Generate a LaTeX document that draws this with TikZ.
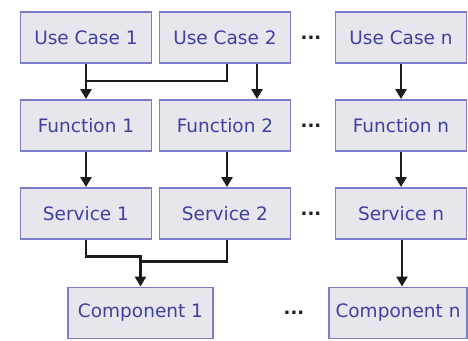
\documentclass[tikz,border=0pt]{standalone}
\usepackage{fontspec}
\setmainfont{DejaVu Sans}
\usetikzlibrary{calc,arrows.meta}
\definecolor{boxfill}{HTML}{E6E6EC}
\definecolor{boxline}{HTML}{7C7CC8}
\definecolor{boxtext}{HTML}{4040A4}
\definecolor{linkcol}{HTML}{1C1C1C}
\begin{document}
\begin{tikzpicture}[x=1pt,y=-1pt,
	block/.style={draw=boxline,fill=boxfill,line width=1.9pt,text=boxtext,
		minimum width=131pt,minimum height=51pt,inner sep=0pt,
		font=\fontsize{18.5}{20}\selectfont},
	wide/.style={block,minimum width=145pt},
	link/.style={draw=linkcol,line width=2.4pt},
	conn/.style={link,-{Triangle[length=10pt,width=11pt]}},
	more/.style={text=linkcol,font=\fontsize{18}{20}\selectfont\bfseries}]
	\def \ca {86}
	\def \cb {225}
	\def \cn {401}
	\def \ra {37.5}
	\def \rb {125.5}
	\def \rc {213.5}
	\def \rd {313}
	
	\useasboundingbox[fill=white] (0,0) rectangle (468,340);
	
	%use cases
	\node[block] (uc1) at (\ca,\ra) {Use Case 1};
	\node[block] (uc2) at (\cb,\ra) {Use Case 2};
	\node[block] (ucn) at (\cn,\ra) {Use Case n};
	
	%functions
	\node[block] (fn1) at (\ca,\rb) {Function 1};
	\node[block] (fn2) at (\cb,\rb) {Function 2};
	\node[block] (fnn) at (\cn,\rb) {Function n};
	
	%services
	\node[block] (sv1) at (\ca,\rc) {Service 1};
	\node[block] (sv2) at (\cb,\rc) {Service 2};
	\node[block] (svn) at (\cn,\rc) {Service n};
	
	%components
	\node[wide] (cp1) at (140.5,\rd) {Component 1};
	\node[wide,minimum width=138pt] (cpn) at (398,\rd) {Component n};
	
	%dots
	\node[more] (dt1) at (311,\ra) {...};
	\node[more] (dt2) at (311,\rb) {...};
	\node[more] (dt3) at (311,\rc) {...};
	\node[more] (dt4) at (294,\rd) {...};
	
	%use case to function
	\coordinate (ja) at ($(uc1.south)+(0,17)$);
	\draw[conn] (uc1) -- (fn1);
	\draw[link] ([xshift=2pt]uc2.south) |- (ja);
	\draw[conn] ([xshift=32pt]uc2.south) -- ([xshift=32pt]fn2.north);
	\draw[conn] (ucn) -- (fnn);
	
	%function to service
	\draw[conn] (fn1) -- (sv1);
	\draw[conn] ([xshift=2pt]fn2.south) -- ([xshift=2pt]sv2.north);
	\draw[conn] (fnn) -- (svn);
	
	%service to component
	\coordinate (jb) at ($(cp1.north)+(0,-30)$);
	\coordinate (jc) at ($(cp1.north)+(0,-25)$);
	\draw[conn] (sv1.south) |- (jb) -- (cp1.north);
	\draw[link] ([xshift=2pt]sv2.south) |- (jc);
	\draw[conn] ([xshift=1pt]svn.south) -- ([xshift=4pt]cpn.north);
\end{tikzpicture}
\end{document}
